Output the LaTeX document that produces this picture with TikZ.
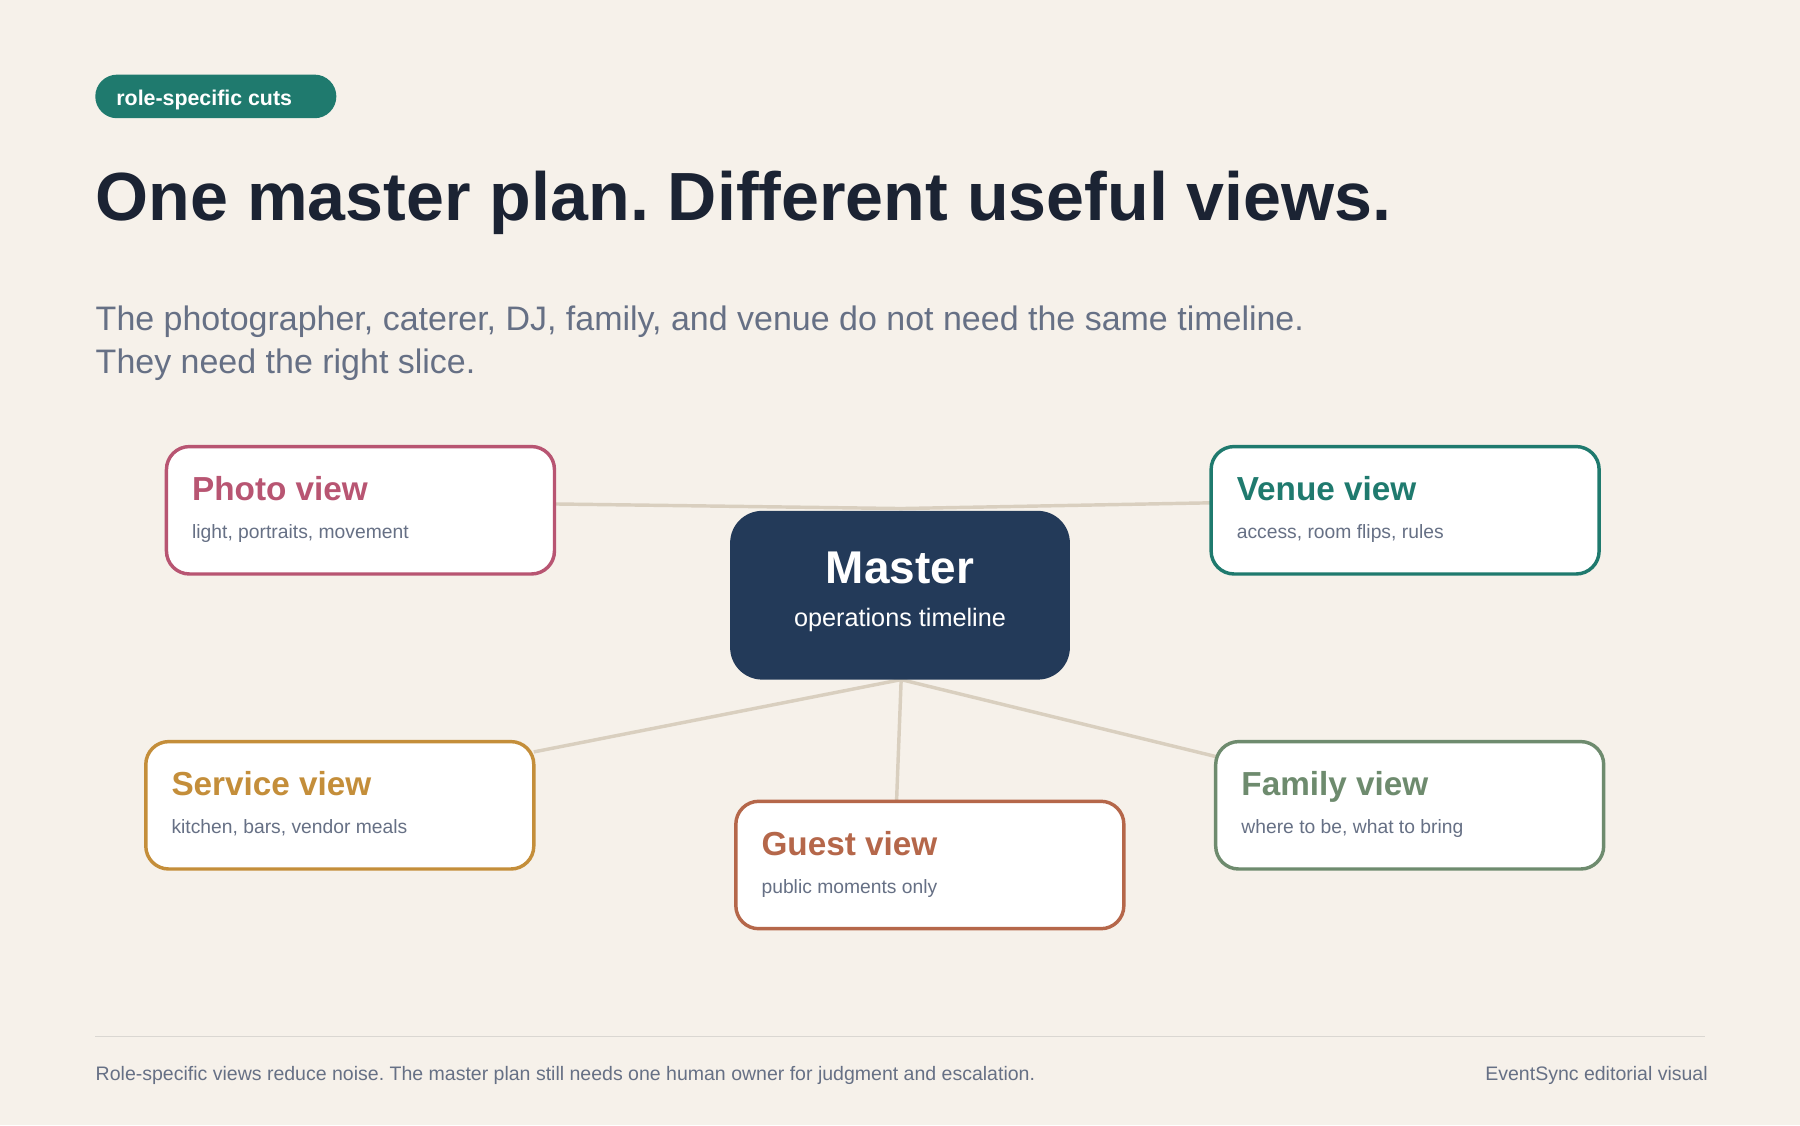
\documentclass[tikz,border=0pt]{standalone}
\usepackage{fontspec}
\setmainfont{Liberation Sans}
\begin{document}
\frenchspacing
\begin{tikzpicture}[x=0.5pt,y=-0.5pt,
  box/.style={draw,line width=1.5pt,rounded corners=10pt,fill=white},
  conn/.style={draw=lineC,line width=1.5pt},
  lbl/.style={anchor=base west,inner sep=0}]
\definecolor{bg}{HTML}{F6F1EA}\definecolor{teal}{HTML}{1F7A6E}
\definecolor{ink}{HTML}{1B2333}\definecolor{gray}{HTML}{667085}
\definecolor{pink}{HTML}{B85572}\definecolor{gold}{HTML}{C48E3A}
\definecolor{rust}{HTML}{B5674A}\definecolor{sage}{HTML}{6E8B6E}
\definecolor{navy}{HTML}{233A59}\definecolor{lineC}{HTML}{D9CFBF}
\fill[bg] (0,0) rectangle (1568,980);
\useasboundingbox (0,0) rectangle (1568,980);
\fill[teal,rounded corners=9.5pt] (83,65) rectangle (293,103);
\node[lbl,text=white,font=\fontsize{9.3}{11}\selectfont\bfseries] (pill) at (101,92) {role-specific cuts};
\node[lbl,text=ink,font=\fontsize{29.7}{34}\selectfont\bfseries] (title) at (83,192) {One master plan. Different useful views.};
\node[lbl,text=gray,font=\fontsize{14.8}{18}\selectfont] (s1) at (83,288) {The photographer, caterer, DJ, family, and venue do not need the same timeline.};
\node[lbl,text=gray,font=\fontsize{14.8}{18}\selectfont] (s2) at (83,325) {They need the right slice.};
% connectors
\coordinate (mt) at (785,443);
\coordinate (mb) at (785,592);
\draw[conn] (483,439) -- (mt) -- (1055,438);
\draw[conn] (mb) -- (465,655);
\draw[conn] (mb) -- (781,698);
\draw[conn] (mb) -- (1059,659);
% master
\fill[navy,rounded corners=14pt] (636,445) rectangle (932,592);
\node[text=white,font=\fontsize{20}{24}\selectfont\bfseries] (master) at (784,495) {Master};
\node[text=white,font=\fontsize{11}{13}\selectfont] (mastersub) at (784,540) {operations timeline};
% boxes
\foreach \x/\y/\c/\t/\s/\n in {145/389/pink/Photo view/{light, portraits, movement}/photo,
  1055/389/teal/Venue view/{access, room flips, rules}/venue,
  127/646/gold/Service view/{kitchen, bars, vendor meals}/service,
  641/698/rust/Guest view/{public moments only}/guest,
  1059/646/sage/Family view/{where to be, what to bring}/family}{
  \draw[box,draw=\c] (\x,\y) rectangle ++(338,111);
  \node[lbl,text=\c,font=\fontsize{14.5}{18}\selectfont\bfseries] (\n t) at (\x+22,\y+47) {\t};
  \node[lbl,text=gray,font=\fontsize{8.4}{10}\selectfont] (\n s) at (\x+22,\y+80) {\s};
}
\draw[draw=lineC!80!gray!60,line width=0.6pt] (83,903) -- (1485,903);
\node[lbl,text=gray,font=\fontsize{8.5}{10}\selectfont] (foot) at (83,941) {Role-specific views reduce noise. The master plan still needs one human owner for judgment and escalation.};
\node[anchor=base east,inner sep=0,text=gray,font=\fontsize{8.5}{10}\selectfont] (brand) at (1488,941) {EventSync editorial visual};
\end{tikzpicture}
\end{document}
